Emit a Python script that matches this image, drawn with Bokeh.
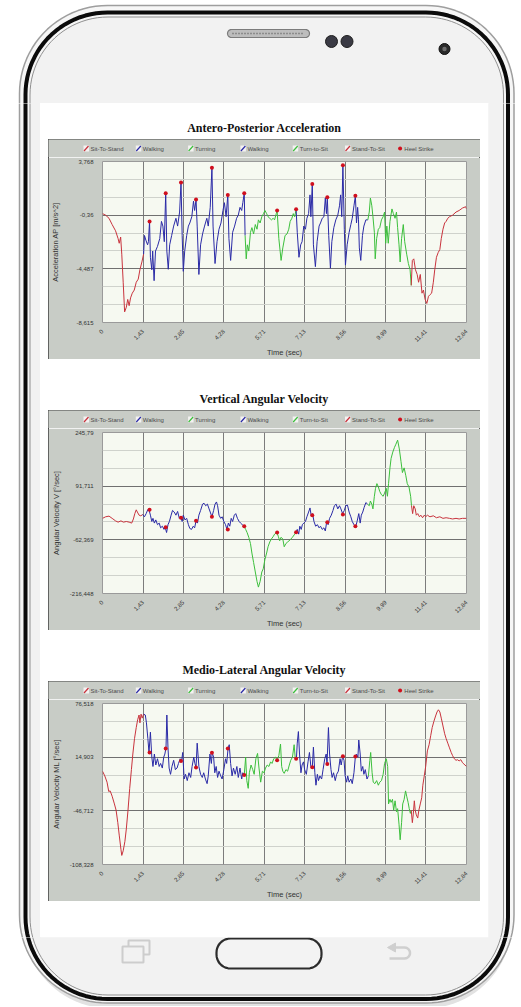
import numpy as np
from bokeh.plotting import figure
from bokeh.layouts import column, row
from bokeh.models import Range1d, FixedTicker, Spacer, CustomJSTickFormatter
from bokeh.core.properties import value
from bokeh.embed import file_html
from bokeh.resources import INLINE

# ---------------------------------------------------------------- data
TIME_TICK_LABELS = ["0", "1,43", "2,85", "4,28", "5,71", "7,13", "8,56", "9,99", "11,41", "12,84"]
PHASE_NAMES = ["Sit-To-Stand", "Walking", "Turning", "Walking", "Turn-to-Sit", "Stand-To-Sit"]
HEEL_LABEL = "Heel Strike"
PHASE_BOUNDS = [0.0, 1.46, 5.04, 6.84, 9.39, 10.91, 12.84]
HEEL_STRIKE_T = [1.66, 2.23, 2.77, 3.30, 3.86, 4.42, 5.00, 6.16, 6.83, 7.40, 7.93, 8.48, 8.92]

AP_TITLE = "Antero-Posterior Acceleration"
AP_YLABEL = "Acceleration AP [m/s^2]"
AP_YTICK_LABELS = ["3,768", "-0,36", "-4,487", "-8,615"]
AP_SERIES = [
    (0, -0.24), (0.11, -0.36), (0.23, -0.60), (0.34, -1.08), (0.46, -1.56), (0.55, -2.16), (0.59, -2.52),
    (0.64, -2.04), (0.68, -3.36), (0.73, -5.52), (0.78, -7.80), (0.84, -7.44), (0.89, -6.84), (0.94, -7.32),
    (0.99, -6.72), (1.05, -6.36), (1.12, -6.12), (1.19, -5.52), (1.26, -5.28), (1.32, -4.56), (1.39, -3.96),
    (1.45, -3.36),
    (1.48, -1.92), (1.53, -2.28), (1.59, -2.64), (1.62, -2.40), (1.66, -0.84), (1.69, -3.60), (1.74, -4.56),
    (1.77, -3.12), (1.82, -5.40), (1.87, -3.12), (1.94, -2.76), (2.02, -2.16), (2.08, -0.84), (2.13, -1.20),
    (2.18, -2.40), (2.23, 1.32), (2.27, -3.12), (2.32, -4.52), (2.37, -2.64), (2.44, -1.92), (2.51, -1.20),
    (2.59, -0.60), (2.65, -1.20), (2.72, -0.12), (2.77, 2.16), (2.81, -1.92), (2.85, -4.68), (2.90, -3.12),
    (2.97, -1.92), (3.03, -1.20), (3.08, -0.96), (3.15, -0.48), (3.21, 0.72), (3.25, 0.00), (3.30, 0.84),
    (3.34, -1.20), (3.40, -4.92), (3.46, -2.64), (3.53, -1.80), (3.60, -1.20), (3.68, -0.60), (3.73, -1.20),
    (3.80, 0.24), (3.86, 3.29), (3.90, -1.20), (3.97, -4.08), (4.04, -2.40), (4.11, -1.44), (4.18, -0.96),
    (4.25, 0.00), (4.30, 0.60), (4.36, -0.48), (4.42, 1.20), (4.46, -2.16), (4.52, -3.84), (4.59, -1.68),
    (4.66, -1.20), (4.73, -0.60), (4.79, -0.36), (4.85, 0.24), (4.91, 0.00), (4.95, 0.60), (5.00, 1.32),
    (5.03, -1.92),
    (5.07, -3.72), (5.11, -2.64), (5.16, -3.12), (5.22, -1.68), (5.27, -1.32), (5.33, -1.80), (5.39, -1.08),
    (5.45, -1.44), (5.50, -0.72), (5.56, -0.96), (5.62, -0.48), (5.68, -0.24), (5.73, 0.00), (5.79, -0.24),
    (5.84, -0.48), (5.90, -0.60), (5.96, -0.72), (6.02, -0.60), (6.07, -0.72), (6.13, -0.24), (6.16, 0.00),
    (6.22, -2.16), (6.30, -3.84), (6.36, -2.88), (6.44, -1.92), (6.51, -1.80), (6.57, -1.44), (6.62, -0.84),
    (6.68, -0.60), (6.73, -0.24), (6.78, -0.48), (6.83, 0.10),
    (6.87, -1.68), (6.93, -3.60), (6.99, -2.64), (7.04, -2.40), (7.10, -1.20), (7.16, -1.44), (7.21, -0.60),
    (7.27, -0.24), (7.32, 1.20), (7.35, -0.48), (7.40, 2.04), (7.44, -2.64), (7.51, -4.32), (7.57, -2.40),
    (7.64, -1.20), (7.69, -0.96), (7.75, -0.60), (7.81, -0.48), (7.86, 0.96), (7.90, -0.24), (7.93, 1.01),
    (7.98, -1.92), (8.04, -4.44), (8.09, -2.40), (8.16, -1.32), (8.23, -0.72), (8.30, -0.36), (8.36, 0.36),
    (8.40, 1.20), (8.44, -0.48), (8.48, 3.48), (8.53, -1.44), (8.57, -4.20), (8.63, -2.64), (8.70, -1.68),
    (8.76, -1.08), (8.81, -0.60), (8.87, 0.36), (8.92, 1.13), (8.96, -0.96), (9.00, 0.24), (9.03, -0.72),
    (9.06, -2.88), (9.11, -3.84), (9.17, -1.92), (9.22, -1.20), (9.29, -0.72), (9.36, -0.72),
    (9.41, -0.12), (9.45, 0.96), (9.50, 0.36), (9.54, -0.48), (9.59, -1.68), (9.62, -3.72), (9.67, -2.16),
    (9.73, -1.44), (9.78, -1.32), (9.84, -0.72), (9.90, -0.48), (9.95, -0.12), (9.99, -2.52), (10.03, -1.20),
    (10.08, -2.52), (10.14, -0.84), (10.21, 0.12), (10.26, -0.24), (10.32, -0.60), (10.37, -0.12),
    (10.41, -1.32), (10.46, -2.64), (10.50, -3.96), (10.55, -2.16), (10.61, -1.08), (10.66, -2.40),
    (10.73, -3.36), (10.79, -4.08), (10.85, -4.56), (10.89, -5.76),
    (10.93, -3.84), (10.98, -3.72), (11.04, -4.56), (11.10, -4.92), (11.15, -5.52), (11.21, -4.92),
    (11.27, -6.36), (11.32, -6.12), (11.38, -6.84), (11.44, -7.15), (11.50, -6.60), (11.55, -6.48),
    (11.61, -6.36), (11.67, -5.52), (11.72, -4.56), (11.78, -3.60), (11.84, -3.24), (11.90, -3.00),
    (11.95, -2.16), (12.01, -1.44), (12.07, -0.96), (12.12, -0.84), (12.18, -0.60), (12.24, -0.48),
    (12.35, -0.36), (12.47, -0.12), (12.58, 0.00), (12.70, 0.19), (12.81, 0.29), (12.84, 0.12),
]
AP_HEEL = [-0.84, 1.32, 2.16, 0.84, 3.29, 1.20, 1.32, 0.00, 0.10, 2.04, 1.01, 3.48, 1.13]

V_TITLE = "Vertical Angular Velocity"
V_YLABEL = "Angular Velocity V [°/sec]"
V_YTICK_LABELS = ["245,79", "91,711", "-62,369", "-216,448"]
V_SERIES = [
    (0, -0.7), (0.11, 3.8), (0.23, 5.7), (0.34, -0.7), (0.46, -7.9), (0.55, -11.6), (0.65, -7.9),
    (0.74, -11.6), (0.84, -9.7), (0.94, -11.6), (1.03, -14.3), (1.09, -2.5), (1.14, 12.9), (1.19, 23.8),
    (1.23, 17.4), (1.29, 8.4), (1.35, 6.6), (1.42, 10.2),
    (1.48, 3.8), (1.54, 12.9), (1.60, 24.7), (1.64, 23.8), (1.69, 8.4), (1.74, -9.7), (1.78, -0.7),
    (1.83, -14.3), (1.88, -5.2), (1.94, -18.8), (2.00, -14.3), (2.05, -27.9), (2.11, -23.3), (2.17, -32.4),
    (2.21, -26.1), (2.26, -41.4), (2.31, -18.8), (2.36, -9.7), (2.42, 8.4), (2.47, 22.0), (2.53, 17.4),
    (2.59, 8.4), (2.65, 19.2), (2.71, -0.7), (2.76, 3.8), (2.81, -9.7), (2.85, 8.4), (2.91, -5.2),
    (2.97, -0.7), (3.03, -18.8), (3.08, -29.7), (3.14, -32.4), (3.20, -23.3), (3.25, -27.9), (3.30, -7.9),
    (3.35, -14.3), (3.40, 8.4), (3.46, 22.0), (3.53, 40.1), (3.58, 42.8), (3.64, 35.5), (3.70, 40.1),
    (3.76, 26.5), (3.80, 17.4), (3.86, 3.8), (3.92, 22.0), (3.97, 40.1), (4.02, 46.4), (4.06, 35.5),
    (4.11, 8.4), (4.17, -0.7), (4.22, 3.8), (4.28, -9.7), (4.34, -18.8), (4.39, -32.4), (4.44, -14.3),
    (4.49, -23.3), (4.54, -0.7), (4.59, -9.7), (4.65, 8.4), (4.70, 12.9), (4.76, -0.7), (4.82, -9.7),
    (4.87, -14.3), (4.93, -18.8), (4.99, -23.3),
    (5.05, -32.4), (5.10, -41.4), (5.16, -55.0), (5.22, -73.1), (5.27, -100.3), (5.33, -127.5),
    (5.39, -154.7), (5.45, -181.8), (5.50, -198.1), (5.56, -181.8), (5.62, -154.7), (5.67, -145.6),
    (5.73, -118.4), (5.79, -100.3), (5.84, -82.2), (5.90, -68.6), (5.96, -59.6), (6.02, -53.2),
    (6.07, -46.0), (6.15, -41.4), (6.20, -52.0), (6.25, -65.0), (6.30, -55.0), (6.36, -60.0),
    (6.41, -82.2), (6.47, -73.0), (6.53, -68.6), (6.62, -62.3), (6.70, -55.0), (6.78, -46.0), (6.83, -40.5),
    (6.87, -32.4), (6.92, -46.0), (6.96, -23.3), (7.01, -32.4), (7.05, -18.8), (7.10, -14.3), (7.16, -9.7),
    (7.21, 3.8), (7.27, 17.4), (7.32, 29.2), (7.36, 8.4), (7.41, 12.9), (7.46, -9.7), (7.52, -23.3),
    (7.58, -18.8), (7.64, -27.9), (7.69, -23.3), (7.75, -32.4), (7.81, -27.9), (7.86, -36.9), (7.91, -9.7),
    (7.96, -18.8), (8.01, -0.7), (8.07, 8.4), (8.13, 22.0), (8.18, 35.5), (8.24, 40.1), (8.30, 26.5),
    (8.36, 35.5), (8.41, 26.5), (8.47, 12.9), (8.53, 22.0), (8.58, 35.5), (8.64, 37.4), (8.70, 17.4),
    (8.76, 3.8), (8.81, -9.7), (8.87, -18.8), (8.93, -25.1), (8.98, -9.7), (9.04, 12.9), (9.09, -14.3),
    (9.13, 8.4), (9.18, 17.4), (9.23, 31.0), (9.29, 44.6), (9.35, 40.1),
    (9.41, 35.5), (9.45, 49.1), (9.50, 40.1), (9.54, 26.5), (9.59, 62.7), (9.63, 85.4), (9.68, 99.0),
    (9.73, 89.9), (9.78, 76.3), (9.84, 67.2), (9.90, 62.7), (9.95, 71.8), (10.01, 85.4), (10.05, 62.7),
    (10.09, 99.0), (10.14, 144.2), (10.18, 171.4), (10.24, 189.5), (10.30, 203.1), (10.35, 212.2),
    (10.41, 223.9), (10.47, 198.6), (10.53, 162.4), (10.58, 130.7), (10.64, 144.2), (10.70, 121.6),
    (10.75, 99.0), (10.81, 89.9), (10.87, 62.7), (10.90, 35.5),
    (10.94, 12.9), (10.98, 35.5), (11.03, 26.5), (11.07, 8.4), (11.12, 12.9), (11.18, 3.8), (11.23, 8.4),
    (11.29, 1.1), (11.35, 8.4), (11.40, 3.8), (11.46, 8.4), (11.55, 3.8), (11.67, 6.6), (11.78, 1.1),
    (11.90, 3.8), (12.01, -0.7), (12.12, 1.1), (12.24, -0.7), (12.35, -2.5), (12.47, -0.7), (12.58, -2.5),
    (12.70, -0.7), (12.84, -0.7),
]
V_HEEL = [23.8, -26.1, 1.1, -7.9, 3.8, -32.4, -23.3, -41.4, -40.5, 8.4, -11.6, 10.2, -23.3]

ML_TITLE = "Medio-Lateral Angular Velocity"
ML_YLABEL = "Angular Velocity ML [°/sec]"
ML_YTICK_LABELS = ["76,518", "14,903", "-46,712", "-108,328"]
ML_SERIES = [
    (0, -1.2), (0.08, -6.6), (0.16, -13.8), (0.22, -24.5), (0.27, -23.8), (0.34, -29.9), (0.42, -38.8),
    (0.48, -46.0), (0.54, -60.3), (0.59, -74.6), (0.65, -90.8), (0.68, -97.9), (0.73, -92.6), (0.79, -81.8),
    (0.84, -67.5), (0.90, -46.0), (0.96, -20.9), (1.02, 0.6), (1.07, 18.5), (1.13, 36.4), (1.19, 48.9),
    (1.24, 57.9), (1.29, 63.3), (1.32, 54.3), (1.36, 64.3), (1.40, 59.7), (1.45, 64.3),
    (1.51, 63.3), (1.55, 54.3), (1.60, 36.4), (1.64, 20.3), (1.69, 43.6), (1.74, 14.9), (1.78, 4.2),
    (1.83, 18.5), (1.88, 5.9), (1.94, 13.1), (2.00, 4.2), (2.05, 7.7), (2.11, 2.4), (2.16, 14.9),
    (2.20, 18.5), (2.24, 25.6), (2.27, 63.3), (2.31, 25.6), (2.35, 2.4), (2.40, -4.8), (2.45, 4.2),
    (2.51, 11.3), (2.57, 0.6), (2.63, 2.4), (2.68, 7.7), (2.74, 13.1), (2.79, 10.6), (2.83, 20.3),
    (2.88, -10.2), (2.93, -4.8), (2.99, -12.0), (3.05, -3.0), (3.11, -8.4), (3.16, 4.2), (3.22, 14.9),
    (3.26, 7.7), (3.30, 3.1), (3.34, 31.0), (3.40, 4.2), (3.46, -4.8), (3.52, -8.4), (3.57, -3.0),
    (3.63, -10.2), (3.69, -15.5), (3.73, -6.6), (3.79, 18.5), (3.84, 7.7), (3.87, 19.9), (3.92, 14.9),
    (3.96, -3.0), (4.01, 4.2), (4.06, -8.4), (4.11, -1.2), (4.17, -6.6), (4.22, -10.2), (4.28, 0.6),
    (4.34, 13.1), (4.38, 7.7), (4.43, 24.9), (4.47, 29.2), (4.52, 7.7), (4.57, -6.6), (4.62, 2.4),
    (4.68, -4.8), (4.74, 4.2), (4.79, -8.4), (4.85, 2.4), (4.91, -10.2), (4.95, -3.0), (5.00, -5.5),
    (5.05, 14.9), (5.09, -12.0), (5.14, -20.9), (5.18, -3.0), (5.24, 5.9), (5.30, 0.6), (5.35, -4.8),
    (5.41, 13.1), (5.47, 19.2), (5.52, 2.4), (5.58, -13.8), (5.64, -1.2), (5.70, -3.0), (5.75, 2.4),
    (5.81, 5.9), (5.87, 4.2), (5.93, 9.5), (5.98, 7.7), (6.04, 13.1), (6.10, 14.9), (6.16, 11.3),
    (6.22, 16.7), (6.28, 30.0), (6.32, 4.2), (6.36, -1.2), (6.41, -3.7), (6.47, 0.6), (6.53, -1.2),
    (6.59, 5.9), (6.64, 11.3), (6.70, 14.9), (6.76, 29.2), (6.80, 13.1), (6.84, 13.1),
    (6.87, 31.0), (6.91, 44.3), (6.95, 18.5), (7.00, -3.0), (7.04, 5.9), (7.09, 9.5), (7.13, 0.6),
    (7.19, -4.8), (7.25, 9.5), (7.30, 20.3), (7.35, 4.2), (7.40, 2.4), (7.44, 26.4), (7.49, -3.0),
    (7.53, -17.3), (7.58, -4.8), (7.62, -12.0), (7.67, -6.6), (7.73, -10.2), (7.78, 0.6), (7.84, 13.1),
    (7.89, 18.5), (7.92, 7.0), (7.97, 48.9), (8.01, 18.5), (8.06, 0.6), (8.10, -8.4), (8.15, -3.0),
    (8.21, -12.0), (8.26, -4.8), (8.32, -1.2), (8.38, 13.1), (8.42, 5.9), (8.47, 15.6), (8.52, 11.3),
    (8.56, -6.6), (8.61, -13.8), (8.65, -6.6), (8.70, -13.8), (8.76, -10.2), (8.81, -15.5), (8.87, -3.0),
    (8.92, 15.6), (8.96, 18.5), (9.01, 14.9), (9.04, 34.6), (9.09, 18.5), (9.13, -1.2), (9.18, 4.2),
    (9.22, -4.8), (9.27, 0.6), (9.33, -10.2), (9.38, -6.6),
    (9.43, 11.3), (9.46, 20.3), (9.51, -3.0), (9.55, -13.8), (9.61, -15.5), (9.67, -12.0), (9.73, -17.3),
    (9.78, -13.8), (9.84, -12.0), (9.90, -4.8), (9.95, 7.7), (10.01, 13.1), (10.06, 4.2), (10.09, -38.8),
    (10.14, -33.5), (10.18, -37.0), (10.23, -33.5), (10.27, -46.0), (10.32, -35.2), (10.37, -47.8),
    (10.41, -44.2), (10.46, -62.1), (10.50, -80.0), (10.55, -60.3), (10.59, -38.8), (10.64, -33.5),
    (10.69, -23.8), (10.73, -29.9), (10.78, -37.0), (10.82, -44.2), (10.86, -49.6), (10.89, -46.0),
    (10.93, -60.3), (10.96, -51.4), (11.00, -35.2), (11.03, -46.0), (11.07, -51.4), (11.12, -55.0),
    (11.16, -46.0), (11.21, -38.8), (11.26, -31.7), (11.30, -17.3), (11.35, -6.6), (11.40, 4.2),
    (11.46, 22.1), (11.52, 29.2), (11.58, 40.0), (11.63, 48.9), (11.69, 56.1), (11.75, 62.2), (11.80, 66.8),
    (11.85, 69.3), (11.90, 66.8), (11.95, 59.7), (12.01, 50.7), (12.07, 41.8), (12.12, 36.4), (12.18, 31.0),
    (12.24, 25.6), (12.30, 20.3), (12.35, 16.7), (12.41, 13.1), (12.47, 11.3), (12.52, 12.0), (12.58, 10.6),
    (12.64, 12.0), (12.70, 8.5), (12.75, 7.0), (12.84, 4.2),
]
ML_HEEL = [20.3, 24.9, 10.6, 3.1, 19.9, 24.9, -5.5, 11.3, 13.1, 3.4, 7.0, 16.0, 15.6]

# ---------------------------------------------------------------- style
PHASE_COLORS = ["#c8333d", "#2a2aa6", "#3cbf3c", "#2a2aa6", "#3cbf3c", "#c8333d"]
HEEL_COLOR = "#d0101e"
BOX_GRAY = "#c8ccc6"
PLOT_BG = "#f6f9f1"
BEZEL = "#f2f2f2"
SANS = "Liberation Sans"
LEGEND_H = 18
CHART_H = 202


def num(s):
    return float(s.replace(",", "."))


def label_formatter(tick_values, tick_texts):
    return CustomJSTickFormatter(args=dict(tvals=tick_values, ttexts=tick_texts), code="""
        let best = 0, d = Infinity;
        for (let i = 0; i < tvals.length; i++) {
            const e = Math.abs(tvals[i] - tick);
            if (e < d) { d = e; best = i; }
        }
        return ttexts[best];
    """)


def make_legend_fig():
    # legend strip in the grey header of the chart box (pixel coordinates)
    f = figure(width=432, height=LEGEND_H, x_range=Range1d(0, 432), y_range=Range1d(LEGEND_H, 0),
               x_axis_location=None, y_axis_location=None, toolbar_location=None,
               output_backend="svg", min_border=0, outline_line_color=None,
               border_fill_color=BOX_GRAY, background_fill_color=BOX_GRAY)
    try:
        f.frame_align = False
    except Exception:
        pass
    f.grid.visible = False
    labels = PHASE_NAMES + [HEEL_LABEL]
    pitch, x_start, yc = 52.3, 35.0, 9.0
    xs0 = [x_start + pitch * i for i in range(len(labels))]
    for i, col in enumerate(PHASE_COLORS):
        x0 = xs0[i]
        f.quad(left=[x0], right=[x0 + 5.5], top=[yc - 3], bottom=[yc + 3],
               fill_color="#f4f2f2", line_color=None)
        f.line([x0 + 0.5, x0 + 5], [yc + 2.5, yc - 2.5], line_color=col, line_width=1.2)
    f.scatter([xs0[-1] + 2.8], [yc], size=4, fill_color=HEEL_COLOR, line_color=None)
    f.text(x=[x + 7 for x in xs0], y=[yc] * len(labels), text=labels, text_align="left",
           text_baseline="middle", text_font=value(SANS), text_font_size="6px",
           text_color="#4a4a4a")
    return f


def make_chart(ylabel, ytick_labels, series, heel, ylab_standoff):
    xt = [num(s) for s in TIME_TICK_LABELS]
    yt = [num(s) for s in ytick_labels]
    ys = sorted(yt)
    minor = []
    for a, b in zip(ys[:-1], ys[1:]):
        minor += [a + (b - a) / 3.0, a + 2 * (b - a) / 3.0]
    p = figure(width=432, height=CHART_H, x_range=Range1d(xt[0], xt[-1]), y_range=Range1d(ys[0], ys[-1]),
               toolbar_location=None, output_backend="svg",
               min_border_left=43, min_border_right=14, min_border_top=22 - LEGEND_H, min_border_bottom=26,
               border_fill_color=BOX_GRAY, background_fill_color=PLOT_BG, outline_line_color="#9a9a9a")
    xtick = FixedTicker(ticks=xt, minor_ticks=[])
    ytick = FixedTicker(ticks=yt, minor_ticks=minor)
    p.xaxis.ticker = xtick
    p.yaxis.ticker = ytick
    p.xgrid.ticker = xtick
    p.ygrid.ticker = ytick
    p.xaxis.formatter = label_formatter(xt, TIME_TICK_LABELS)
    p.yaxis.formatter = label_formatter(yt, ytick_labels)
    p.axis.axis_line_color = None
    p.axis.major_tick_line_color = None
    p.axis.minor_tick_line_color = None
    p.axis.major_label_text_font = SANS
    p.axis.major_label_text_font_size = "6px"
    p.axis.major_label_text_color = "#333333"
    p.axis.axis_label_text_font = SANS
    p.axis.axis_label_text_font_size = "7.5px"
    p.axis.axis_label_text_font_style = "normal"
    p.axis.axis_label_text_color = "#333333"
    p.xaxis.axis_label = "Time (sec)"
    p.yaxis.axis_label = ylabel
    p.xaxis.major_label_orientation = np.pi / 4
    p.xaxis.major_label_standoff = 2
    p.xaxis.axis_label_standoff = 1
    p.yaxis.major_label_standoff = 3
    p.yaxis.axis_label_standoff = ylab_standoff
    p.xgrid.grid_line_color = "#7c7c7c"
    p.ygrid.grid_line_color = "#707070"
    p.ygrid.minor_grid_line_color = "#cfd2cc"

    pts = np.array(series, dtype=float)
    t, v = pts[:, 0], pts[:, 1]
    for k in range(len(PHASE_NAMES)):
        lo, hi = PHASE_BOUNDS[k], PHASE_BOUNDS[k + 1]
        if k == 0:
            idx = np.where(t <= hi)[0]
        else:
            idx = np.where((t > lo) & (t <= hi))[0]
            if len(idx) and idx[0] > 0:
                idx = np.concatenate([[idx[0] - 1], idx])
        p.line(t[idx], v[idx], line_color=PHASE_COLORS[k], line_width=1)
    p.scatter(HEEL_STRIKE_T, heel, size=4, fill_color=HEEL_COLOR, line_color=None)
    return column(make_legend_fig(), p,
                  styles={"outline": "1px solid #404040", "outline-offset": "-1px"})


def title_fig(txt):
    f = figure(width=448, height=36, x_range=Range1d(0, 448), y_range=Range1d(36, 0),
               x_axis_location=None, y_axis_location=None, toolbar_location=None,
               output_backend="svg", min_border=0, outline_line_color=None,
               border_fill_color="white", background_fill_color="white")
    f.grid.visible = False
    f.text(x=[224], y=[24], text=[txt], text_align="center", text_baseline="middle",
           text_font=value("Liberation Serif"), text_font_style="bold", text_font_size="12px",
           text_color="#111111")
    return f


def rrect(x0, y0, x1, y1, r, n=24):
    xs, ys = [], []
    for cx, cy, a0 in [(x1 - r, y0 + r, -np.pi / 2), (x1 - r, y1 - r, 0.0),
                       (x0 + r, y1 - r, np.pi / 2), (x0 + r, y0 + r, np.pi)]:
        a = np.linspace(a0, a0 + np.pi / 2, n)
        xs += list(cx + r * np.cos(a))
        ys += list(cy + r * np.sin(a))
    return xs, ys


def draw_phone(f):
    # soft shadow under the phone
    xs, ys = rrect(22, 20, 512, 1008, 88)
    f.patch(xs, ys, fill_color="#e2e2e2", line_color=None)
    xs, ys = rrect(19, 5, 513.5, 1002.5, 88)
    f.patch(xs, ys, fill_color="#f6f6f6", line_color="#9e9e9e", line_width=1.5)
    xs, ys = rrect(25, 12, 507.5, 998.5, 82)
    f.patch(xs, ys, fill_color=None, line_color="#0b0b0b", line_width=4)
    xs, ys = rrect(29.5, 16.5, 503, 994.5, 78)
    f.patch(xs, ys, fill_color=BEZEL, line_color="#8f8f8f", line_width=1)
    f.quad(left=[40], right=[488], top=[103], bottom=[937], fill_color="white", line_color=None)
    # speaker
    xs, ys = rrect(227, 29, 309, 37, 4, n=8)
    f.patch(xs, ys, fill_color="#bdbdbd", line_color="#7c7c7c", line_width=1.2)
    f.line([232, 304], [33, 33], line_color="#5a5a5a", line_width=1.5, line_dash="1 2")
    # cameras
    f.circle(x=[331, 346.5], y=[41, 41], radius=6, fill_color="#3a3a44", line_color="#1e1e1e")
    f.circle(x=[444], y=[48.5], radius=5.5, fill_color="#2a2a2a", line_color="#111111")
    f.circle(x=[444], y=[48.5], radius=2.2, fill_color="#6d6d6d", line_color=None)
    # home button
    xs, ys = rrect(216, 938, 321, 968, 14, n=10)
    f.patch(xs, ys, fill_color="#f3f3f3", line_color="#2c2c2c", line_width=2.2)
    # recent apps icon
    f.quad(left=[128], right=[149], top=[940], bottom=[954], fill_color=BEZEL, line_color="#cdcdcd", line_width=2)
    f.quad(left=[122], right=[143], top=[946], bottom=[962], fill_color=BEZEL, line_color="#cdcdcd", line_width=2)
    # back icon
    a = np.linspace(-np.pi / 2, np.pi / 2, 12)
    bx = [394, 404] + list(404 + 5.5 * np.cos(a)) + [404, 389]
    by = [947, 947] + list(952.5 + 5.5 * np.sin(a)) + [958, 958]
    f.line(bx, by, line_color="#cfcfcf", line_width=2.5)
    f.patch([387, 395, 395], [947, 942.5, 951.5], fill_color="#cfcfcf", line_color="#cfcfcf")


def decor(x0, x1, y0, y1):
    f = figure(width=int(x1 - x0), height=int(y1 - y0), x_range=Range1d(x0, x1), y_range=Range1d(y1, y0),
               x_axis_location=None, y_axis_location=None, toolbar_location=None, output_backend="svg",
               min_border=0, outline_line_color=None, border_fill_color="white",
               background_fill_color="white")
    f.grid.visible = False
    draw_phone(f)
    return f


charts = [
    (AP_TITLE, make_chart(AP_YLABEL, AP_YTICK_LABELS, AP_SERIES, AP_HEEL, 13)),
    (V_TITLE, make_chart(V_YLABEL, V_YTICK_LABELS, V_SERIES, V_HEEL, 6)),
    (ML_TITLE, make_chart(ML_YLABEL, ML_YTICK_LABELS, ML_SERIES, ML_HEEL, 6)),
]

screen_children = []
for title, ch in charts:
    screen_children.append(title_fig(title))
    screen_children.append(row(Spacer(width=8, height=220), ch, Spacer(width=8, height=220)))
    screen_children.append(Spacer(width=448, height=15))
screen_children.append(Spacer(width=448, height=21))
screen = column(*screen_children)

top = decor(0, 521, 0, 103)
left = decor(0, 40, 103, 937)
right = decor(488, 521, 103, 937)
bottom = decor(0, 521, 937, 1006)

page = column(top, row(left, screen, right), bottom)

with open("out.html", "w") as fh:
    fh.write(file_html(page, INLINE))
